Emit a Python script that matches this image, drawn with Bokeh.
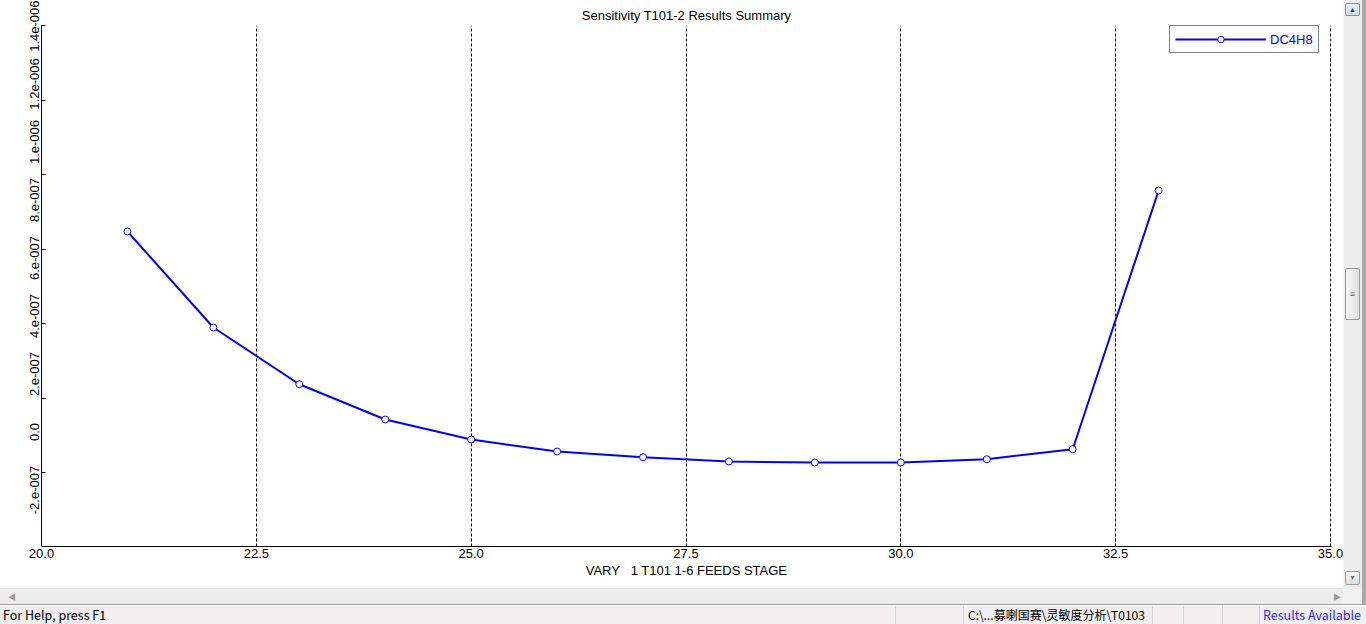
from bokeh.plotting import figure
from bokeh.layouts import row, column
from bokeh.models import (Range1d, FixedTicker, LinearAxis, Div,
                          Legend, LegendItem, PrintfTickFormatter, CustomJSTickFormatter)
from bokeh.embed import file_html
from bokeh.resources import INLINE

# ---------------- data ----------------
stage = [21, 22, 23, 24, 25, 26, 27, 28, 29, 30, 31, 32, 33]
dc4h8 = [6.914e-7, 3.603e-7, 1.648e-7, 4.31e-8, -2.59e-8, -6.72e-8, -8.69e-8,
         -1.017e-7, -1.052e-7, -1.052e-7, -9.38e-8, -5.93e-8, 8.328e-7]

x_ticks = [20.0, 22.5, 25.0, 27.5, 30.0, 32.5, 35.0]
x_grid = [22.5, 25.0, 27.5, 30.0, 32.5, 35.0]
y_ticks = [1.4e-6, 1.2e-6, 1.0e-6, 8e-7, 6e-7, 4e-7, 2e-7, 0.0, -2e-7]
y_tick_labels = ["1.4e-006", "1.2e-006", "1.e-006", "8.e-007", "6.e-007",
                 "4.e-007", "2.e-007", "0.0", "-2.e-007"]
y_tick_marks = [1.4017e-6, 1.1431e-6, 8.879e-7, 6.293e-7, 3.741e-7, 1.155e-7, -1.397e-7]
x_lim = (20.0, 35.0116)
y_lim = (-3.948e-7, 1.4017e-6)

title_text = "Sensitivity T101-2 Results Summary"
x_title = "VARY\u00a0\u00a0\u00a01 T101 1-6 FEEDS STAGE"
series_name = "DC4H8"
status_help = "For Help, press F1"
status_path = "C:\\...募喇国赛\\灵敏度分析\\T0103"
status_state = "Results Available"

FONT = "Liberation Sans"
BLUE = "#0000ff"

p = figure(width=1343, height=588, x_range=Range1d(*x_lim), y_range=Range1d(*y_lim),
           output_backend="svg", toolbar_location=None, y_axis_location=None,
           min_border_left=41, min_border_right=12, min_border_top=25, min_border_bottom=42,
           background_fill_color="white", border_fill_color="white", outline_line_color=None)

# ---------------- title ----------------
p.title.text = title_text
p.title.align = "center"
p.title.text_font = FONT
p.title.text_font_size = "13px"
p.title.text_font_style = "normal"
p.title.text_color = "black"
p.title.standoff = 5

# ---------------- x axis ----------------
xa = p.xaxis[0]
xa.ticker = FixedTicker(ticks=x_ticks)
xa.formatter = PrintfTickFormatter(format="%.1f")
xa.major_tick_in = 0
xa.major_tick_out = 0
xa.minor_tick_line_color = None
xa.axis_line_color = "black"
xa.axis_line_width = 1
xa.major_label_standoff = 2
xa.major_label_text_font = FONT
xa.major_label_text_font_size = "13px"
xa.major_label_text_color = "black"
xa.axis_label = x_title
xa.axis_label_text_font = FONT
xa.axis_label_text_font_size = "13px"
xa.axis_label_text_font_style = "normal"
xa.axis_label_text_color = "black"
xa.axis_label_standoff = 2

# ---------------- y axes ----------------
ya_marks = LinearAxis(ticker=FixedTicker(ticks=y_tick_marks),
                      formatter=CustomJSTickFormatter(code="return ''"),
                      major_tick_in=4, major_tick_out=0, minor_tick_line_color=None,
                      major_label_standoff=0, major_label_text_font_size="0px",
                      axis_line_color="black", axis_line_width=1)
p.add_layout(ya_marks, "left")

ya_labels = LinearAxis(ticker=FixedTicker(ticks=y_ticks),
                       formatter=CustomJSTickFormatter(
                           args=dict(yvals=y_ticks, ylabs=y_tick_labels),
                           code="const i = yvals.findIndex(t => Math.abs(t - tick) < 1e-12); return i >= 0 ? ylabs[i] : '';"),
                       major_tick_in=0, major_tick_out=0, minor_tick_line_color=None,
                       axis_line_color=None, major_label_standoff=2,
                       major_label_orientation="vertical",
                       major_label_text_font=FONT, major_label_text_font_size="13px",
                       major_label_text_color="black")
p.add_layout(ya_labels, "left")

# ---------------- grid ----------------
p.xgrid.ticker = FixedTicker(ticks=x_grid)
p.xgrid.grid_line_color = "black"
p.xgrid.grid_line_dash = "3 2"
p.xgrid.grid_line_width = 1
p.ygrid.grid_line_color = None

# ---------------- series ----------------
ln = p.line(stage, dc4h8, line_color=BLUE, line_width=2)
sc = p.scatter(stage, dc4h8, marker="circle", size=7, fill_color="white",
               line_color=BLUE, line_width=1)

legend = Legend(items=[LegendItem(label=series_name, renderers=[ln, sc])],
                location=(1128, 493), orientation="vertical",
                border_line_color="black", border_line_width=1,
                background_fill_color="white", background_fill_alpha=1,
                label_text_color=BLUE, label_text_font=FONT, label_text_font_size="13px",
                glyph_width=91, glyph_height=16, label_height=16, label_width=43,
                padding=5, margin=0, spacing=0, label_standoff=4)
p.add_layout(legend, "center")

# ---------------- window chrome (scrollbars, status bar) ----------------
vscroll_html = (
    '<div style="position:relative;width:23px;height:588px;background:#ececec;">'
    '<div style="position:absolute;left:0;top:0;width:1px;height:588px;background:#f6f6f6"></div>'
    '<div style="position:absolute;left:19px;top:0;width:4px;height:588px;background:#a9a9a9"></div>'
    '<div style="position:absolute;left:2px;top:3px;width:15px;height:13px;box-sizing:border-box;'
    'background:linear-gradient(#eaf2fb,#c9dcef);border:1px solid #6f95bc;border-radius:2px;'
    'font-size:7px;line-height:11px;text-align:center;color:#1f3f63">&#9650;</div>'
    '<div style="position:absolute;left:2px;top:268px;width:15px;height:52px;box-sizing:border-box;'
    'background:linear-gradient(90deg,#f7f7f7,#dedede);border:1px solid #9a9a9a;border-radius:2px;'
    'font-size:9px;line-height:50px;text-align:center;color:#606060">&#8801;</div>'
    '<div style="position:absolute;left:2px;top:571px;width:15px;height:14px;box-sizing:border-box;'
    'background:linear-gradient(#f7f7f7,#dedede);border:1px solid #a0a0a0;border-radius:2px;'
    'font-size:7px;line-height:12px;text-align:center;color:#707070">&#9660;</div>'
    '</div>'
)
vscroll = Div(text=vscroll_html, width=23, height=588, margin=0)

sep = ''.join(
    f'<div style="position:absolute;left:{sx}px;top:18px;width:1px;height:18px;background:#cfcfcf"></div>'
    for sx in [895, 963, 1152, 1183, 1222, 1259])
bottom_html = (
    '<div style="position:relative;width:1366px;height:36px;background:#f0eeee;'
    'font-family:\'Noto Sans CJK SC\',\'Noto Sans\',sans-serif;font-size:12.5px;">'
    '<div style="position:absolute;left:0;top:0;width:1343px;height:16px;background:#ececec;'
    'border-top:1px solid #e2e2e2;box-sizing:border-box"></div>'
    '<div style="position:absolute;left:8px;top:3px;font-size:8px;color:#9a9a9a">&#9664;</div>'
    '<div style="position:absolute;left:1333px;top:3px;font-size:8px;color:#9a9a9a">&#9654;</div>'
    '<div style="position:absolute;left:1343px;top:0;width:19px;height:16px;background:#f0f0f0"></div>'
    '<div style="position:absolute;left:1362px;top:0;width:4px;height:17px;background:#a9a9a9"></div>'
    '<div style="position:absolute;left:0;top:16px;width:1366px;height:1px;background:#a0a0a0"></div>'
    '<div style="position:absolute;left:0;top:17px;width:1366px;height:1px;background:#ffffff"></div>'
    + sep +
    f'<div style="position:absolute;left:3px;top:17px;line-height:19px;color:#000">{status_help}</div>'
    f'<div style="position:absolute;left:968px;top:17px;line-height:19px;color:#000;font-size:12px">{status_path}</div>'
    f'<div style="position:absolute;left:1263px;top:17px;line-height:19px;color:#2b2bff">{status_state}</div>'
    '</div>'
)
bottom = Div(text=bottom_html, width=1366, height=36, margin=0)

layout = column(row(p, vscroll, spacing=0), bottom, spacing=0)

open("out.html", "w").write(file_html(layout, INLINE))
